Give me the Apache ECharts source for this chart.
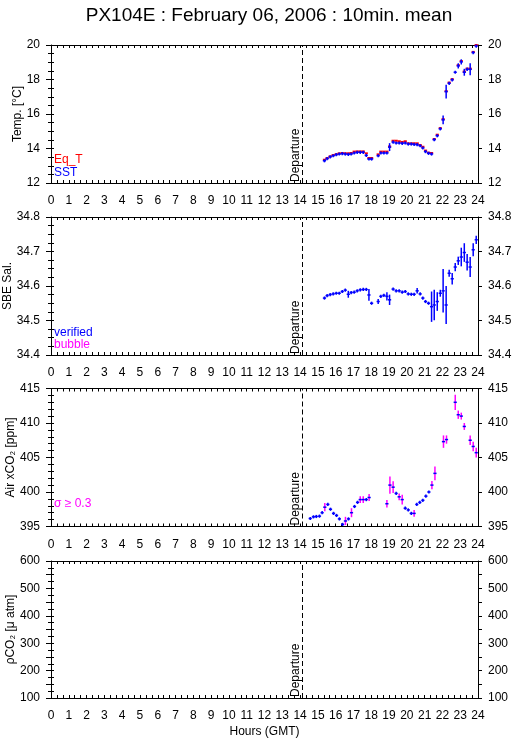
<!DOCTYPE html>
<html><head><meta charset="utf-8">
<script src="https://cdn.jsdelivr.net/npm/echarts@6/dist/echarts.min.js"></script>
<style>html,body{margin:0;padding:0;background:#fff}#c{width:515px;height:739px}</style>
</head><body><div id="c"></div>
<script>
// ---------- data ----------
const departureHour = 14.12;

const sstHours = [15.37,15.52,15.69,15.86,16.03,16.20,16.37,16.54,16.71,16.87,17.04,17.21,17.38,17.55,17.72,17.87,18.02,18.39,18.54,18.71,18.88,19.03,19.23,19.40,19.57,19.74,19.91,20.08,20.25,20.41,20.58,20.75,20.90,21.05,21.22,21.39,21.54,21.71,21.88,22.04,22.21,22.38,22.55,22.72,22.89,23.06,23.23,23.39,23.56,23.73,23.90];
const sst = [13.29,13.41,13.52,13.58,13.64,13.68,13.70,13.68,13.66,13.68,13.74,13.78,13.78,13.78,13.60,13.39,13.39,13.58,13.74,13.74,13.74,14.08,14.37,14.32,14.32,14.30,14.32,14.26,14.26,14.24,14.22,14.16,14.03,13.82,13.72,13.68,14.51,14.74,15.14,15.66,17.30,17.78,17.98,18.42,18.79,19.02,18.42,18.59,18.59,19.56,19.94];
const sstSd = [0.03,0.03,0.03,0.03,0.03,0.03,0.03,0.03,0.03,0.03,0.03,0.03,0.03,0.03,0.05,0.05,0.03,0.05,0.03,0.03,0.03,0.23,0.05,0.03,0.03,0.03,0.03,0.03,0.03,0.03,0.03,0.03,0.03,0.03,0.03,0.05,0.05,0.05,0.08,0.25,0.40,0.08,0.08,0.05,0.15,0.15,0.20,0.10,0.35,0.08,0.05];
const eqT = [13.35,13.45,13.54,13.62,13.67,13.72,13.74,13.72,13.72,13.74,13.82,13.83,13.83,13.83,13.72,13.45,13.45,13.66,13.82,13.82,13.82,14.12,14.45,14.45,14.42,14.38,14.42,14.30,14.30,14.30,14.30,14.20,14.10,13.88,13.76,13.74,14.55,14.80,15.18,15.70,17.32,17.82,18.02,null,18.83,19.07,18.46,18.63,18.63,19.60,20.00];

const sal = [34.565,34.572,34.575,34.577,34.579,34.579,34.584,34.588,34.576,34.581,34.582,34.586,34.589,34.590,34.590,34.574,34.550,34.555,34.570,34.573,34.570,34.560,34.591,34.586,34.586,34.582,34.584,34.577,34.576,34.576,34.586,34.577,34.565,34.555,34.550,34.540,34.545,34.555,34.579,34.586,34.545,34.637,34.621,34.655,34.673,34.684,34.697,34.669,34.655,34.705,34.734];
const salSd = [0.004,0.003,0.003,0.003,0.003,0.003,0.003,0.003,0.010,0.003,0.003,0.003,0.003,0.003,0.003,0.017,0.003,0.007,0.003,0.003,0.012,0.015,0.003,0.003,0.003,0.003,0.003,0.003,0.003,0.003,0.008,0.003,0.003,0.003,0.003,0.044,0.044,0.027,0.010,0.063,0.055,0.010,0.017,0.012,0.012,0.027,0.027,0.024,0.029,0.019,0.012];

const co2Hours = [14.57,14.75,14.91,15.09,15.24,15.39,15.56,15.71,15.88,16.05,16.21,16.39,16.55,16.72,16.89,17.06,17.23,17.38,17.55,17.72,17.88,18.88,19.05,19.23,19.40,19.57,19.74,19.91,20.08,20.25,20.41,20.56,20.73,20.90,21.07,21.24,21.41,21.58,22.06,22.23,22.72,22.89,23.06,23.23,23.56,23.73,23.90];
const co2 = [396.16,396.4,396.45,396.5,397.0,397.8,398.2,397.5,396.9,396.6,396.1,395.3,395.8,396.1,397.0,397.9,398.5,398.9,398.9,398.9,399.2,398.3,401.0,400.7,399.8,399.3,398.9,397.65,397.4,396.9,396.9,398.2,398.5,398.8,399.4,400.0,401.0,402.7,407.3,407.6,413.0,411.2,411.0,409.5,407.5,406.6,405.7];
const co2Sd = [0.1,0.1,0.1,0.1,0.2,0.6,0.15,0.1,0.1,0.1,0.15,0.1,0.6,0.2,0.65,0.15,0.1,0.5,0.5,0.1,0.5,0.55,1.25,0.85,0.1,0.5,0.7,0.1,0.1,0.1,0.5,0.1,0.1,0.1,0.1,0.15,0.6,1.0,0.9,0.6,1.1,0.6,0.5,0.5,0.7,0.7,0.7];
const sigmaFlag = 0.3;

const hourTicks = {min: 0, max: 24, step: 1};
const panelsY = [
  {min: 12, max: 20, major: 2, minor: 0.5, name: 'Temp. [°C]'},
  {min: 34.4, max: 34.8, major: 0.1, minor: 0.025, name: 'SBE Sal.'},
  {min: 395, max: 415, major: 5, minor: 1, name: 'Air xCO\u2082 [ppm]'},
  {min: 100, max: 600, major: 50, minor: 25, name: '\u03c1CO\u2082 [\u03bc atm]', labelEvery: 100}
];

// ---------- styles ----------
const FONT = 'Liberation Sans, Arial, Helvetica, sans-serif';
const BLUE = '#0000ff', RED = '#ff0000', MAG = '#ff00ff';
const HALF = 0.09;      // half width of horizontal arm (hours)
const MIN_ARM = 1.6;    // px
const gridTops = [45, 217, 388.5, 561];
const gridHeights = [138, 138, 138, 137];
const nameGaps = [27, 37, 34, 34];

const grid = gridTops.map((t, i) => ({left: 51, right: 37, top: t, height: gridHeights[i],
  containLabel: false, outerBoundsMode: 'none'}));

const xAxis = [];
gridTops.forEach((t, i) => {
  xAxis.push({
    type: 'value', gridIndex: i, position: 'bottom', min: hourTicks.min, max: hourTicks.max, interval: hourTicks.step,
    axisLine: {show: true, onZero: false, lineStyle: {color: '#000', width: 1}},
    axisTick: {show: true, inside: true, length: 3, lineStyle: {color: '#000'}},
    minorTick: {show: true, splitNumber: 3, length: 3, lineStyle: {color: '#000'}},
    splitLine: {show: false},
    axisLabel: {show: true, margin: 12, color: '#000', fontSize: 12, fontFamily: FONT, showMinLabel: true, showMaxLabel: true},
    name: i === 3 ? 'Hours (GMT)' : '', nameLocation: 'middle', nameGap: 28, nameMoveOverlap: false,
    nameTextStyle: {color: '#000', fontSize: 12, fontFamily: FONT}
  });
  xAxis.push({
    type: 'value', gridIndex: i, position: 'top', min: hourTicks.min, max: hourTicks.max, interval: hourTicks.step,
    axisLine: {show: true, onZero: false, lineStyle: {color: '#000', width: 1}},
    axisTick: {show: true, inside: true, length: 3, lineStyle: {color: '#000'}},
    minorTick: {show: true, splitNumber: 3, length: 3, lineStyle: {color: '#000'}},
    splitLine: {show: false}, axisLabel: {show: false}
  });
});

const yAxis = [];
panelsY.forEach((p, i) => {
  const fmt = p.labelEvery ? (v => (Math.round(v) % p.labelEvery === 0 ? String(Math.round(v)) : '')) : null;
  const base = {type: 'value', gridIndex: i, min: p.min, max: p.max, splitLine: {show: false}};
  yAxis.push(Object.assign({}, base, {
    position: 'left', interval: p.major,
    axisLine: {show: true, onZero: false, lineStyle: {color: '#000', width: 1}},
    axisTick: {show: true, inside: false, length: 5, lineStyle: {color: '#000'}},
    axisLabel: {show: true, margin: 11, color: '#000', fontSize: 12, fontFamily: FONT, formatter: fmt || undefined},
    name: p.name, nameLocation: 'middle', nameGap: nameGaps[i], nameMoveOverlap: false,
    nameTextStyle: {color: '#000', fontSize: 12, fontFamily: FONT}
  }));
  yAxis.push(Object.assign({}, base, {
    position: 'left', interval: p.minor,
    axisLine: {show: false}, axisTick: {show: true, inside: true, length: 3, lineStyle: {color: '#000'}},
    axisLabel: {show: false}
  }));
  yAxis.push(Object.assign({}, base, {
    position: 'right', interval: p.major,
    axisLine: {show: true, onZero: false, lineStyle: {color: '#000', width: 1}},
    axisTick: {show: true, inside: false, length: 4, lineStyle: {color: '#000'}},
    axisLabel: {show: true, margin: 10, color: '#000', fontSize: 12, fontFamily: FONT, formatter: fmt || undefined}
  }));
  yAxis.push(Object.assign({}, base, {
    position: 'right', interval: p.minor,
    axisLine: {show: false}, axisTick: {show: true, inside: true, length: 3, lineStyle: {color: '#000'}},
    axisLabel: {show: false}
  }));
});

function crossItem(hColor, vColor, hw, vw, minArm, flagColor) {
  return function (params, api) {
    const h = api.value(0), v = api.value(1), s = api.value(2);
    const c = api.coord([h, v]);
    const l = api.coord([h - HALF, v]);
    const r = api.coord([h + HALF, v]);
    const t = api.coord([h, v + s]);
    const b = api.coord([h, v - s]);
    const y1 = Math.min(t[1], c[1] - minArm), y2 = Math.max(b[1], c[1] + minArm);
    const vc = (flagColor && s >= sigmaFlag) ? flagColor : vColor;
    const children = [];
    if (vw > 0) children.push({type: 'line', shape: {x1: c[0], y1: y1, x2: c[0], y2: y2}, style: {stroke: vc, lineWidth: vw}});
    children.push({type: 'line', shape: {x1: l[0], y1: c[1], x2: r[0], y2: c[1]}, style: {stroke: hColor, lineWidth: hw}});
    return {type: 'group', children: children};
  };
}

function build(hours, vals, sds) {
  const out = [];
  hours.forEach((h, k) => { if (vals[k] != null) out.push([h, vals[k], sds ? sds[k] : 0]); });
  return out;
}

const depMark = {
  symbol: 'none', silent: true, animation: false,
  lineStyle: {color: '#000', type: [5, 3], width: 1},
  label: {show: true, formatter: 'Departure', position: 'insideStartTop', distance: 1, color: '#000', fontSize: 12, fontFamily: FONT},
  data: [{xAxis: departureHour}]
};

const series = [
  {type: 'custom', xAxisIndex: 0, yAxisIndex: 0, renderItem: crossItem(RED, RED, 2, 0, 0, null),
   data: build(sstHours, eqT, null), encode: {x: 0, y: 1}, markLine: depMark, z: 2},
  {type: 'custom', xAxisIndex: 0, yAxisIndex: 0, renderItem: crossItem(BLUE, BLUE, 1.5, 1.5, MIN_ARM, null),
   data: build(sstHours, sst, sstSd), encode: {x: 0, y: 1}, z: 3},
  {type: 'custom', xAxisIndex: 2, yAxisIndex: 4, renderItem: crossItem(BLUE, BLUE, 1.5, 1.5, MIN_ARM, null),
   data: build(sstHours, sal, salSd), encode: {x: 0, y: 1}, markLine: depMark, z: 3},
  {type: 'custom', xAxisIndex: 4, yAxisIndex: 8, renderItem: crossItem(BLUE, BLUE, 1.5, 1.5, MIN_ARM, MAG),
   data: build(co2Hours, co2, co2Sd), encode: {x: 0, y: 1}, markLine: depMark, z: 3},
  {type: 'line', xAxisIndex: 6, yAxisIndex: 12, data: [], markLine: depMark}
];

const legendText = (x, y, txt, col) => ({type: 'text', left: x, top: y, silent: true,
  style: {text: txt, fill: col, font: '12px ' + FONT}});

const option = {
  animation: false,
  backgroundColor: '#fff',
  title: {text: 'PX104E : February 06, 2006 : 10min. mean', left: 264, top: 1, textAlign: 'center',
    textStyle: {color: '#000', fontSize: 19, fontWeight: 'normal', fontFamily: FONT}},
  grid: grid, xAxis: xAxis, yAxis: yAxis, series: series,
  graphic: [
    legendText(54, 154, 'Eq_T', RED),
    legendText(54, 167, 'SST', BLUE),
    legendText(54, 327, 'verified', BLUE),
    legendText(54, 339, 'bubble', MAG),
    legendText(54, 498, '\u03c3 \u2265 0.3', MAG)
  ]
};

const chart = echarts.init(document.getElementById('c'), null, {renderer: 'canvas'});
chart.setOption(option);
</script></body></html>
